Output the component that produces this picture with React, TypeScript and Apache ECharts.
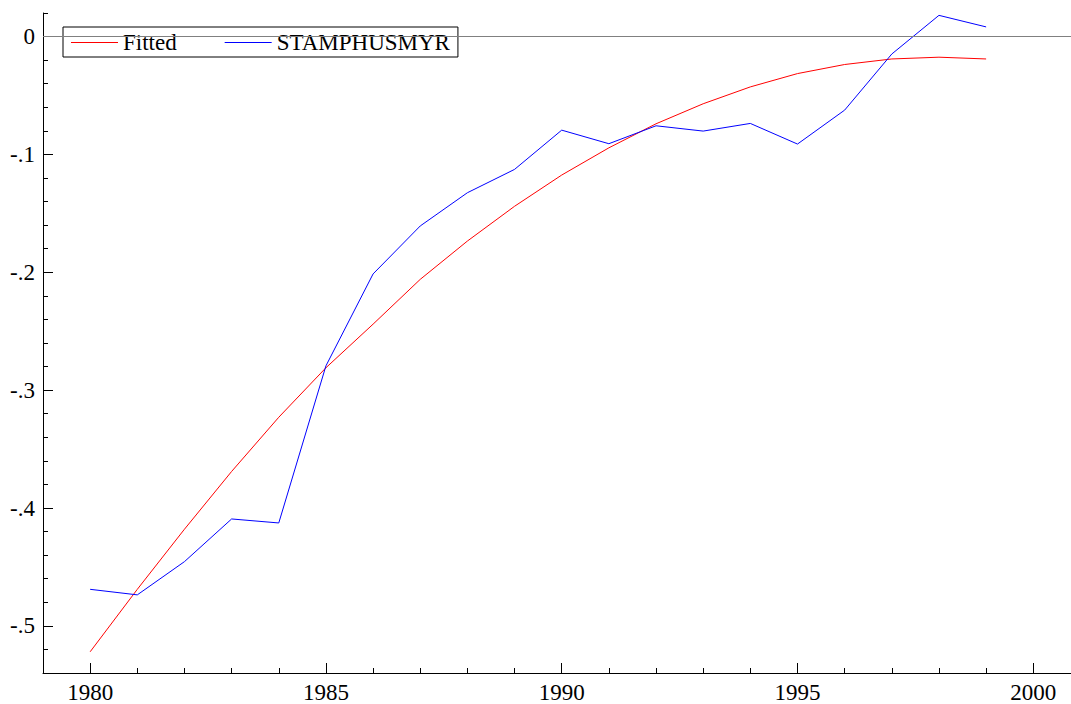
import React, { useEffect, useRef } from "react";
import * as echarts from "echarts";

const years = [1980, 1981, 1982, 1983, 1984, 1985, 1986, 1987, 1988, 1989, 1990, 1991, 1992, 1993, 1994, 1995, 1996, 1997, 1998, 1999];
const fitted = [-0.522, -0.469, -0.418, -0.369, -0.323, -0.281, -0.244, -0.206, -0.1735, -0.144, -0.1175, -0.0944, -0.074, -0.057, -0.0427, -0.0314, -0.0237, -0.019, -0.0175, -0.019];
const stamphusmyr = [-0.469, -0.4737, -0.4455, -0.4093, -0.4127, -0.2794, -0.2014, -0.1607, -0.1325, -0.1127, -0.0794, -0.0909, -0.0757, -0.0802, -0.0737, -0.0912, -0.0624, -0.0148, 0.018, 0.0082];
const xMajorTicks = [1980, 1985, 1990, 1995, 2000];
const yMajorTicks = [-0.5, -0.4, -0.3, -0.2, -0.1, 0];

const X_MIN = 1979;
const X_MAX = 2000.8;
const Y_MIN = -0.54;
const Y_MAX = 0.02;

const FONT = "Liberation Serif";
const FS = 23;

function fmtY(v: number): string {
  if (Math.abs(v) < 1e-9) return "0";
  const s = v.toFixed(1);
  return s.replace("0.", ".");
}

export default function App() {
  const ref = useRef<HTMLDivElement>(null);
  useEffect(() => {
    document.body.style.margin = "0";
    if (!ref.current) return;
    const chart = echarts.init(ref.current, null, { renderer: "svg" });
    const axisLineStyle = { color: "#000", width: 1 };
    const option: any = {
      animation: false,
      backgroundColor: "#fff",
      textStyle: { fontFamily: FONT, color: "#000" },
      grid: { left: 43, right: 0, top: 13, bottom: 31, containLabel: false },
      legend: {
        left: 63,
        top: 27,
        orient: "horizontal",
        padding: [4, 8, 3, 8],
        borderColor: "#000",
        borderWidth: 1,
        backgroundColor: "transparent",
        itemWidth: 47,
        itemHeight: 1.2,
        itemGap: 48,
        icon: "rect",
        textStyle: { fontFamily: FONT, fontSize: FS, color: "#000", lineHeight: 23 },
        data: ["Fitted", "STAMPHUSMYR"],
      },
      xAxis: [
        {
          type: "value",
          min: X_MIN,
          max: X_MAX,
          interval: 1,
          position: "bottom",
          axisLine: { show: true, onZero: false, lineStyle: axisLineStyle },
          axisTick: { show: true, inside: true, length: 5, lineStyle: { color: "#000" } },
          axisLabel: { show: false },
          splitLine: { show: false },
        },
        {
          type: "value",
          min: X_MIN,
          max: X_MAX,
          position: "bottom",
          axisLine: { show: false, onZero: false },
          axisTick: { show: true, inside: true, length: 10, customValues: xMajorTicks, lineStyle: { color: "#000" } },
          axisLabel: {
            show: true,
            customValues: xMajorTicks,
            fontFamily: FONT,
            fontSize: FS,
            color: "#000",
            margin: 8,
            formatter: (v: number) => String(Math.round(v)),
          },
          splitLine: { show: false },
        },
      ],
      yAxis: [
        {
          type: "value",
          min: Y_MIN,
          max: Y_MAX,
          interval: 0.02,
          position: "left",
          axisLine: { show: true, onZero: false, lineStyle: axisLineStyle },
          axisTick: { show: true, inside: true, length: 5, lineStyle: { color: "#000" } },
          axisLabel: { show: false },
          splitLine: { show: false },
        },
        {
          type: "value",
          min: Y_MIN,
          max: Y_MAX,
          position: "left",
          axisLine: { show: false, onZero: false },
          axisTick: { show: true, inside: true, length: 10, customValues: yMajorTicks, lineStyle: { color: "#000" } },
          axisLabel: {
            show: true,
            customValues: yMajorTicks,
            fontFamily: FONT,
            fontSize: FS,
            color: "#000",
            margin: 8,
            formatter: (v: number) => fmtY(v),
          },
          splitLine: { show: false },
        },
      ],
      series: [
        {
          name: "Fitted",
          type: "line",
          xAxisIndex: 0,
          yAxisIndex: 0,
          data: years.map((y, i) => [y, fitted[i]]),
          showSymbol: false,
          symbol: "none",
          lineStyle: { color: "#ff0000", width: 1 },
          itemStyle: { color: "#ff0000" },
          silent: true,
          markLine: {
            silent: true,
            symbol: "none",
            label: { show: false },
            lineStyle: { color: "#808080", width: 1, type: "solid" },
            data: [{ yAxis: 0 }],
          },
          z: 3,
        },
        {
          name: "STAMPHUSMYR",
          type: "line",
          xAxisIndex: 0,
          yAxisIndex: 0,
          data: years.map((y, i) => [y, stamphusmyr[i]]),
          showSymbol: false,
          symbol: "none",
          lineStyle: { color: "#0000ff", width: 1 },
          itemStyle: { color: "#0000ff" },
          silent: true,
          z: 4,
        },
      ],
    };
    chart.setOption(option);
    return () => chart.dispose();
  }, []);
  return <div ref={ref} style={{ width: 1071, height: 704 }} />;
}
